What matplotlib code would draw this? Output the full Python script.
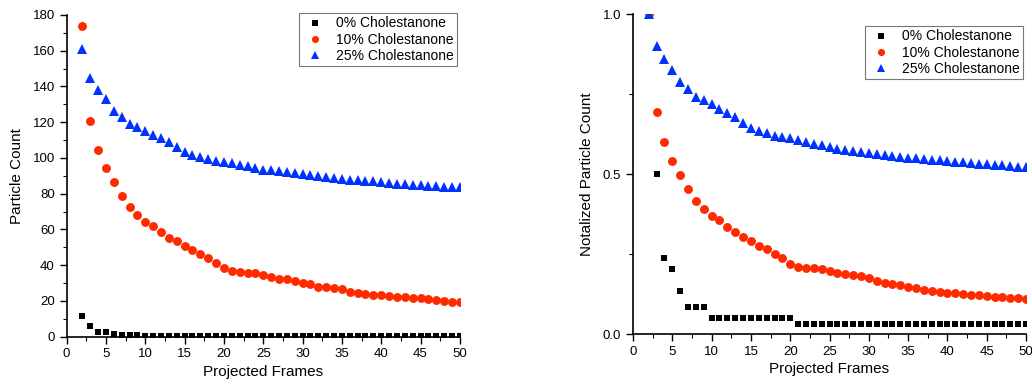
import matplotlib
matplotlib.use("Agg")
import matplotlib.pyplot as plt
from matplotlib.ticker import MultipleLocator, FormatStrFormatter

plt.rcParams['font.family'] = ['Liberation Sans', 'DejaVu Sans']

frames = list(range(2, 51))

count_0 = [11.8, 5.9, 2.8, 2.4, 1.6, 1.0, 1.0, 1.0,
           0.6, 0.6, 0.6, 0.6, 0.6, 0.6, 0.6, 0.6, 0.6, 0.6, 0.6,
           0.4, 0.4, 0.4, 0.4, 0.4, 0.4, 0.4, 0.4, 0.4, 0.4, 0.4, 0.4, 0.4, 0.4, 0.4,
           0.4, 0.4, 0.4, 0.4, 0.4, 0.4, 0.4, 0.4, 0.4, 0.4, 0.4, 0.4, 0.4, 0.4, 0.4]
count_10 = [174.0, 120.9, 104.5, 94.2, 86.5, 78.9, 72.4, 68.3, 64.4, 62.0,
            58.6, 55.4, 53.4, 50.9, 48.5, 46.5, 43.9, 41.4, 38.6, 36.8,
            36.2, 35.8, 35.5, 34.5, 33.2, 32.5, 32.1, 31.3, 29.9, 29.3,
            28.0, 27.6, 27.3, 26.5, 25.2, 24.6, 23.9, 23.5, 23.3, 22.8,
            22.4, 22.2, 21.6, 21.5, 20.9, 20.5, 20.2, 19.6, 19.2]
count_25 = [161.0, 144.6, 138.0, 132.8, 126.5, 123.0, 119.0, 117.5, 115.3, 112.9,
            111.0, 109.0, 106.3, 103.5, 101.7, 100.7, 99.3, 98.5, 97.9, 97.0,
            96.0, 95.5, 94.5, 93.5, 93.0, 92.5, 92.0, 91.5, 91.0, 90.5,
            90.0, 89.5, 89.0, 88.0, 87.5, 87.5, 87.0, 87.0, 86.5, 86.0,
            85.5, 85.5, 85.0, 85.0, 84.5, 84.5, 84.0, 83.5, 83.5]

norm_0 = [1.0, 0.5, 0.239, 0.205, 0.136, 0.084, 0.084, 0.084,
          0.05, 0.05, 0.05, 0.05, 0.05, 0.05, 0.05, 0.05, 0.05, 0.05, 0.05,
          0.032, 0.032, 0.032, 0.032, 0.032, 0.032, 0.032, 0.032, 0.032, 0.032,
          0.032, 0.032, 0.032, 0.032, 0.032, 0.032, 0.032, 0.032, 0.032, 0.032,
          0.032, 0.032, 0.032, 0.032, 0.032, 0.032, 0.032, 0.032, 0.032, 0.032]
norm_10 = [1.0, 0.694, 0.600, 0.541, 0.497, 0.453, 0.416, 0.391, 0.368, 0.356,
           0.335, 0.318, 0.304, 0.292, 0.277, 0.266, 0.251, 0.237, 0.220, 0.210,
           0.208, 0.206, 0.204, 0.199, 0.190, 0.188, 0.185, 0.182, 0.175, 0.167,
           0.161, 0.157, 0.154, 0.147, 0.144, 0.138, 0.135, 0.133, 0.130, 0.128,
           0.126, 0.124, 0.122, 0.121, 0.117, 0.116, 0.114, 0.112, 0.110]
norm_25 = [1.0, 0.901, 0.858, 0.825, 0.787, 0.765, 0.742, 0.731, 0.718, 0.702,
           0.692, 0.677, 0.661, 0.645, 0.634, 0.628, 0.619, 0.617, 0.613, 0.607,
           0.601, 0.593, 0.590, 0.584, 0.580, 0.576, 0.573, 0.570, 0.567, 0.564,
           0.561, 0.558, 0.554, 0.551, 0.549, 0.547, 0.545, 0.543, 0.541, 0.538,
           0.537, 0.535, 0.533, 0.532, 0.530, 0.528, 0.525, 0.522, 0.522]

labels = ['0% Cholestanone', '10% Cholestanone', '25% Cholestanone']
colors = ['#000000', '#FF2A00', '#0033FF']
markers = ['s', 'o', '^']
msizes = [4.8, 6.4, 7.0]

fig = plt.figure(figsize=(10.32, 3.9), dpi=100)
ax1 = fig.add_axes([0.0646, 0.1367, 0.381, 0.825])
ax2 = fig.add_axes([0.6134, 0.1428, 0.3808, 0.8213])


def style(ax):
    for s in ['top', 'right']:
        ax.spines[s].set_visible(False)
    for s in ['left', 'bottom']:
        ax.spines[s].set_linewidth(1.2)
    ax.tick_params(which='major', direction='out', length=5, width=1.0,
                   labelsize=9.5)
    ax.tick_params(which='minor', direction='out', length=3, width=0.8)
    ax.set_xlim(0, 50)
    ax.xaxis.set_major_locator(MultipleLocator(5))
    ax.xaxis.set_minor_locator(MultipleLocator(2.5))
    ax.set_xlabel('Projected Frames', fontsize=11, labelpad=3)


series1 = [count_0, count_10, count_25]
series2 = [norm_0, norm_10, norm_25]
for ys, lab, c, m, ms in zip(series1, labels, colors, markers, msizes):
    ax1.plot(frames, ys, linestyle='none', marker=m, color=c, markersize=ms,
             markeredgewidth=0, label=lab)
for ys, lab, c, m, ms in zip(series2, labels, colors, markers, msizes):
    ax2.plot(frames, ys, linestyle='none', marker=m, color=c, markersize=ms,
             markeredgewidth=0, label=lab)

style(ax1)
ax1.set_ylim(0, 180)
ax1.yaxis.set_major_locator(MultipleLocator(20))
ax1.yaxis.set_minor_locator(MultipleLocator(10))
ax1.set_ylabel('Particle Count', fontsize=11, labelpad=6)

style(ax2)
ax2.set_ylim(0, 1.0)
ax2.yaxis.set_major_locator(MultipleLocator(0.5))
ax2.yaxis.set_minor_locator(MultipleLocator(0.25))
ax2.yaxis.set_major_formatter(FormatStrFormatter('%.1f'))
ax2.set_ylabel('Notalized Particle Count', fontsize=11, labelpad=6)

for ax, anchor in [(ax1, (457 / 1032, 1 - 13 / 390)),
                   (ax2, (1023 / 1032, 1 - 26 / 390))]:
    leg = ax.legend(loc='upper right', bbox_to_anchor=anchor,
                    bbox_transform=fig.transFigure, fontsize=10,
                    frameon=True, fancybox=False, borderpad=0.25,
                    labelspacing=0.15, handlelength=1.8, handletextpad=0.6,
                    borderaxespad=0, markerscale=0.8)
    leg.get_frame().set_edgecolor('#555555')
    leg.get_frame().set_linewidth(0.8)

fig.savefig('out.png', dpi=100)
